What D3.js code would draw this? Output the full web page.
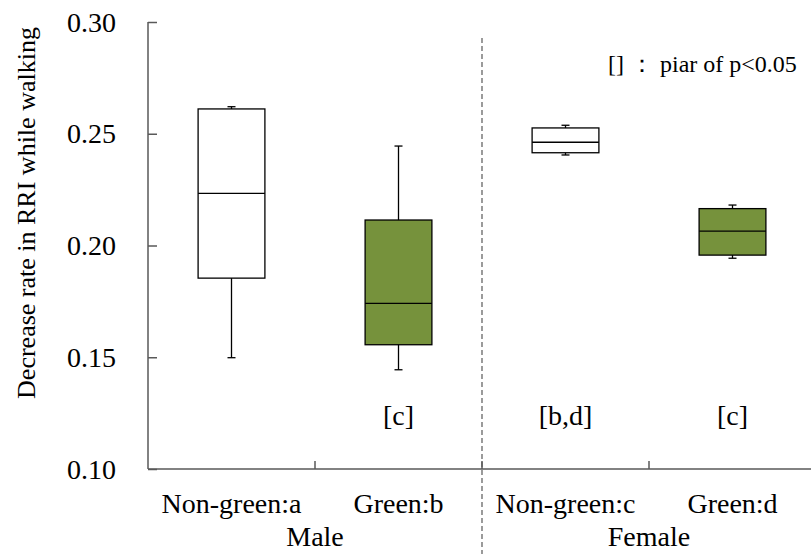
<!DOCTYPE html>
<html>
<head>
<meta charset="utf-8">
<script src="https://cdn.jsdelivr.net/npm/d3@7/dist/d3.min.js"></script>
<style>
  html, body { margin: 0; padding: 0; background: #fff; }
</style>
</head>
<body>
<svg id="chart" width="811" height="554"></svg>
<script>
// ---- data ----
const categories = ["Non-green:a", "Green:b", "Non-green:c", "Green:d"];
const groups = ["Male", "Female"];
const mins    = [0.1498, 0.1444, 0.2405, 0.1943];
const q1s     = [0.1854, 0.1556, 0.2415, 0.1957];
const medians = [0.2233, 0.1741, 0.2462, 0.2064];
const q3s     = [0.2611, 0.2114, 0.2526, 0.2165];
const maxs    = [0.2621, 0.2445, 0.2538, 0.2181];
const fills   = ["#ffffff", "#76923c", "#ffffff", "#76923c"];
const annotations = ["", "[c]", "[b,d]", "[c]"];
const yTicks = [0.10, 0.15, 0.20, 0.25, 0.30];
const yTitle = "Decrease rate in RRI while walking";
const legendText = "[] \uff1a piar of p<0.05";

// ---- font detection ----
const svg = d3.select("#chart");
function widthWith(family) {
  const t = svg.append("text").attr("font-size", 40).style("font-family", family).text("Decrease rate 0.25 mmmWil");
  const w = t.node().getComputedTextLength();
  t.remove();
  return w;
}
const candidates = ["Liberation Serif", "Tinos", "Times New Roman", "Times", "Nimbus Roman", "DejaVu Serif", "Noto Serif"];
const baseMono = widthWith("monospace");
const baseSans = widthWith("sans-serif");
let FONT = "serif";
for (const c of candidates) {
  if (widthWith(`"${c}", monospace`) !== baseMono && widthWith(`"${c}", sans-serif`) !== baseSans) { FONT = `"${c}"`; break; }
}

// ---- layout ----
const x = d3.scaleBand().domain(categories).range([148, 816]).paddingInner(0).paddingOuter(0);
const y = d3.scaleLinear().domain([0.10, 0.30]).range([469, 22]);
const bw = x.bandwidth() * 0.4;
const capW = 8;
const axisColor = "#595959";

// y axis
const yAxis = d3.axisRight(y).tickValues(yTicks).tickSize(9).tickFormat("");
const gy = svg.append("g").attr("transform", "translate(148,0)").call(yAxis);
gy.select(".domain").attr("stroke", axisColor).attr("stroke-width", 1.5).attr("d", `M0,${y(0.30)}V${y(0.10)}`);
gy.selectAll(".tick line").attr("stroke", axisColor).attr("stroke-width", 1.5);

svg.append("g").selectAll("text").data(yTicks).join("text")
  .attr("x", 116).attr("y", d => y(d)).attr("dy", "0.34em")
  .attr("text-anchor", "end").attr("font-size", 28)
  .text(d => d3.format(".2f")(d));

// x axis
const boundaries = categories.slice(1).map(c => x(c));
svg.append("line").attr("x1", 148).attr("x2", 816).attr("y1", y(0.10)).attr("y2", y(0.10))
  .attr("stroke", axisColor).attr("stroke-width", 1.5);
svg.append("g").selectAll("line").data(boundaries).join("line")
  .attr("x1", d => d).attr("x2", d => d).attr("y1", y(0.10)).attr("y2", y(0.10) - 8)
  .attr("stroke", axisColor).attr("stroke-width", 1.5);

// dashed separator
svg.append("line").attr("x1", x("Non-green:c")).attr("x2", x("Non-green:c"))
  .attr("y1", 38).attr("y2", 554)
  .attr("stroke", "#595959").attr("stroke-width", 1.2).attr("stroke-dasharray", "5,3");

// boxes
const idx = d3.range(categories.length);
const cx = i => x(categories[i]) + x.bandwidth() / 2;
const g = svg.append("g").selectAll("g").data(idx).join("g");
g.append("line")
  .attr("x1", cx).attr("x2", cx)
  .attr("y1", i => y(maxs[i])).attr("y2", i => y(mins[i]))
  .attr("stroke", "#000").attr("stroke-width", 1.3);
g.append("line")
  .attr("x1", i => cx(i) - capW / 2).attr("x2", i => cx(i) + capW / 2)
  .attr("y1", i => y(maxs[i])).attr("y2", i => y(maxs[i]))
  .attr("stroke", "#000").attr("stroke-width", 1.3);
g.append("line")
  .attr("x1", i => cx(i) - capW / 2).attr("x2", i => cx(i) + capW / 2)
  .attr("y1", i => y(mins[i])).attr("y2", i => y(mins[i]))
  .attr("stroke", "#000").attr("stroke-width", 1.3);
g.append("rect")
  .attr("x", i => cx(i) - bw / 2).attr("width", bw)
  .attr("y", i => y(q3s[i])).attr("height", i => y(q1s[i]) - y(q3s[i]))
  .attr("fill", i => fills[i]).attr("stroke", "#000").attr("stroke-width", 1.3);
g.append("line")
  .attr("x1", i => cx(i) - bw / 2).attr("x2", i => cx(i) + bw / 2)
  .attr("y1", i => y(medians[i])).attr("y2", i => y(medians[i]))
  .attr("stroke", "#000").attr("stroke-width", 1.3);

// annotations
svg.append("g").selectAll("text").data(idx).join("text")
  .attr("x", cx).attr("y", 425)
  .attr("text-anchor", "middle").attr("font-size", 28)
  .text(i => annotations[i]);

// category labels
svg.append("g").selectAll("text").data(categories).join("text")
  .attr("x", d => x(d) + x.bandwidth() / 2).attr("y", 513)
  .attr("text-anchor", "middle").attr("font-size", 28)
  .text(d => d);

// group labels
svg.append("g").selectAll("text").data(groups).join("text")
  .attr("x", (d, i) => x(categories[i * 2 + 1]))
  .attr("y", 546).attr("text-anchor", "middle").attr("font-size", 28)
  .text(d => d);

// y title
svg.append("text").attr("transform", "translate(35,213) rotate(-90)")
  .attr("text-anchor", "middle").attr("font-size", 26).text(yTitle);

// legend
svg.append("text").attr("x", 608).attr("y", 72).attr("font-size", 24).text(legendText);

svg.selectAll("text").style("font-family", FONT + ", serif").attr("fill", "#000");
</script>
</body>
</html>
